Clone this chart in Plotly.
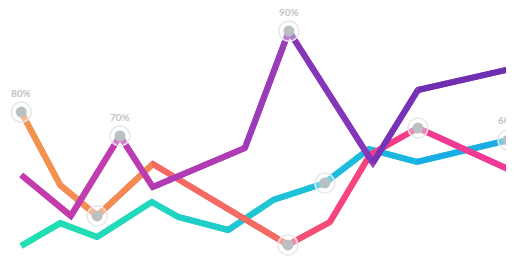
import plotly.graph_objects as go

# Series A (orange -> pink)
x_a = [4.2, 11.9, 19.2, 30.2, 56.9, 65.2, 73.1, 82.6, 101.2]
y_a = [56.4, 28.0, 16.0, 36.2, 4.7, 13.6, 39.7, 50.2, 33.5]
# Series B (magenta -> purple)
x_b = [4.2, 14.0, 23.7, 30.2, 48.4, 57.1, 73.7, 82.6, 101.2]
y_b = [31.9, 16.0, 47.1, 27.2, 42.4, 87.9, 36.6, 65.0, 73.3]
# Series C (teal -> blue)
x_c = [4.2, 11.9, 19.2, 30.0, 35.2, 45.1, 54.0, 64.2, 72.9, 82.4, 100.4]
y_c = [4.3, 13.2, 7.8, 21.4, 15.6, 10.5, 22.2, 28.8, 42.0, 37.0, 45.5]

# highlighted points: (series, index, label)
highlights = [("a", 0, "80%"), ("a", 2, ""), ("a", 4, ""), ("a", 7, ""),
              ("b", 2, "70%"), ("b", 5, "90%"),
              ("c", 7, ""), ("c", 10, "60%")]

stops = {
    "a": [(0, "#f39a4c"), (25, "#f48a52"), (35, "#f77c5c"), (55, "#f5546f"), (80, "#f8398c"), (100, "#ee3a9c")],
    "b": [(0, "#c93ba8"), (25, "#c13cb2"), (50, "#a23cb8"), (60, "#8b39b9"), (75, "#7934b6"), (100, "#6a2fb0")],
    "c": [(0, "#1ee3ad"), (30, "#22d9bd"), (45, "#20cad0"), (65, "#1cc0de"), (100, "#1aa8e8")],
}
series = {"a": (x_a, y_a), "b": (x_b, y_b), "c": (x_c, y_c)}


def hex2rgb(h):
    h = h.lstrip("#")
    return tuple(int(h[i:i + 2], 16) for i in (0, 2, 4))


def color_at(st, u):
    if u <= st[0][0]:
        return st[0][1]
    for (u0, c0), (u1, c1) in zip(st[:-1], st[1:]):
        if u0 <= u <= u1:
            t = (u - u0) / (u1 - u0)
            r0, g0, b0 = hex2rgb(c0)
            r1, g1, b1 = hex2rgb(c1)
            return "rgb(%d,%d,%d)" % (r0 + (r1 - r0) * t, g0 + (g1 - g0) * t, b0 + (b1 - b0) * t)
    return st[-1][1]


fig = go.Figure()
LW = 6
for key in ["c", "a", "b"]:
    xs, ys = series[key]
    st = stops[key]
    fig.add_trace(go.Scatter(x=xs, y=ys, mode="lines",
                             line=dict(color=color_at(st, 50), width=LW),
                             hoverinfo="skip", showlegend=False))
    for i in range(len(xs) - 1):
        mid = (xs[i] + xs[i + 1]) / 2
        fig.add_trace(go.Scatter(x=xs[i:i + 2], y=ys[i:i + 2], mode="lines",
                                 line=dict(color=color_at(st, mid), width=LW),
                                 hoverinfo="skip", showlegend=False))

hx = [series[k][0][i] for k, i, _ in highlights]
hy = [series[k][1][i] for k, i, _ in highlights]
labels = [l for _, _, l in highlights]

fig.add_trace(go.Scatter(x=hx, y=hy, mode="markers",
                         marker=dict(size=20, color="rgba(255,255,255,0.35)",
                                     line=dict(color="#e8e8e8", width=1.5)),
                         hoverinfo="skip", showlegend=False))
fig.add_trace(go.Scatter(x=hx, y=hy, mode="markers",
                         marker=dict(size=11, color="#b9c1c4", line=dict(width=0)),
                         hoverinfo="skip", showlegend=False))

PX_PER_Y = 2.57
PX_PER_X = 5.06
LAB_OFF_PX = 19
font = dict(family="Lato", size=10, color="#c4c4c4", weight="bold")

# label at the cut right edge: a text trace clipped by the plot area, as in the cropped original
edge_labels = [t if x >= 100 else "" for x, t in zip(hx, labels)]
fig.add_trace(go.Scatter(x=hx, y=[v + LAB_OFF_PX / PX_PER_Y for v in hy], mode="text",
                         text=edge_labels, textposition="middle center", textfont=font,
                         hoverinfo="skip", showlegend=False))

# labels inside the window: annotations anchored to the data points
for x, y, t in zip(hx, hy, labels):
    if t and x < 100:
        fig.add_annotation(x=x, y=y, xref="x", yref="y", text=t, showarrow=False,
                           yshift=LAB_OFF_PX, font=font)

# page body has an 8px margin; the figure is sized so the plot area ends at the window edges
fig.update_layout(
    width=510, height=249,
    margin=dict(l=0, r=12, t=0, b=0),
    paper_bgcolor="white", plot_bgcolor="white",
    xaxis=dict(range=[8 / PX_PER_X, 100], visible=False, showgrid=False, zeroline=False, fixedrange=True),
    yaxis=dict(range=[0, 249 / PX_PER_Y], visible=False, showgrid=False, zeroline=False, fixedrange=True),
)
fig.write_html("out.html")
